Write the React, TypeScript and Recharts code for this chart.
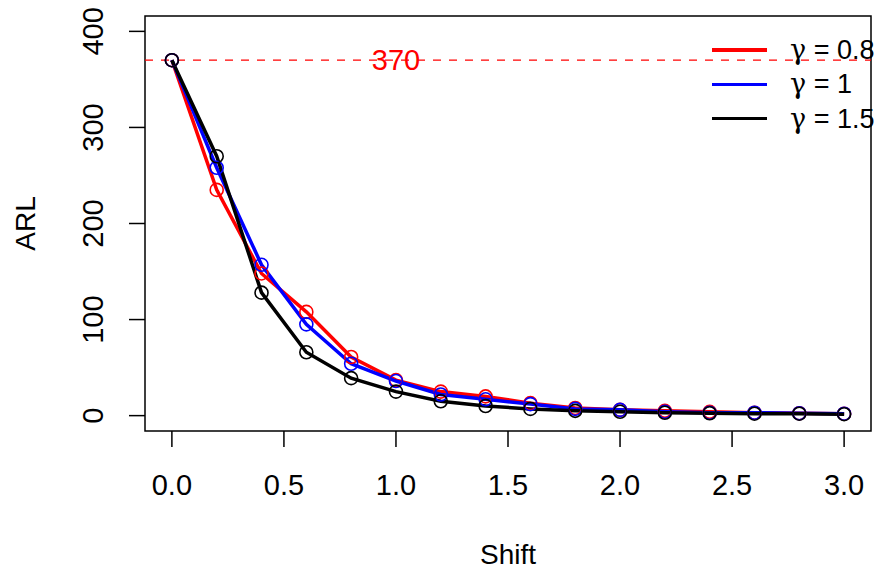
import { LineChart, Line, XAxis, YAxis, ReferenceLine, ReferenceArea, ReferenceDot } from 'recharts';

const shift = [0, 0.2, 0.4, 0.6, 0.8, 1.0, 1.2, 1.4, 1.6, 1.8, 2.0, 2.2, 2.4, 2.6, 2.8, 3.0];
const arlG08 = [370, 235, 148, 108, 61, 37, 25, 20, 13, 8, 6, 5, 4, 3, 2.5, 2];
const arlG1 = [370, 258, 157, 95, 54, 36, 22, 17, 12, 7, 6, 4, 3, 3, 2.5, 2];
const arlG15 = [370, 270, 128, 66, 39, 25, 15, 10, 7, 5, 4, 3, 2.5, 2, 2, 1.5];

const xTicks = [0, 0.5, 1.0, 1.5, 2.0, 2.5, 3.0];
const yTicks = [0, 100, 200, 300, 400];
const target = 370;

const series = [
  { key: 'g08', name: '0.8', color: '#ff0000' },
  { key: 'g1', name: '1', color: '#0000ff' },
  { key: 'g15', name: '1.5', color: '#000000' },
];

const data = shift.map((s, i) => ({ shift: s, g08: arlG08[i], g1: arlG1[i], g15: arlG15[i] }));

const FONT = '"Liberation Sans", Arial, sans-serif';
const TICK_FS = 29;
const TITLE_FS = 28;

function XTick(props: any) {
  const { x, y, payload } = props;
  return (
    <text x={x} y={y + 46} textAnchor="middle" fontSize={TICK_FS} fontFamily={FONT} fill="#000">
      {payload.value.toFixed(1)}
    </text>
  );
}

function YTick(props: any) {
  const { x, y, payload } = props;
  const tx = x - 24;
  return (
    <text x={tx} y={y} transform={`rotate(-90 ${tx} ${y})`} textAnchor="middle" fontSize={TICK_FS} fontFamily={FONT} fill="#000">
      {payload.value}
    </text>
  );
}

function XTitle(props: any) {
  const { viewBox } = props;
  const cx = viewBox.x + viewBox.width / 2;
  return (
    <text x={cx} y={564} textAnchor="middle" fontSize={TITLE_FS} fontFamily={FONT} fill="#000">
      Shift
    </text>
  );
}

function YTitle(props: any) {
  const { viewBox } = props;
  const cy = viewBox.y + viewBox.height / 2;
  return (
    <text x={35} y={cy} transform={`rotate(-90 35 ${cy})`} textAnchor="middle" fontSize={TITLE_FS} fontFamily={FONT} fill="#000">
      ARL
    </text>
  );
}

function LegendBox() {
  return (
    <div style={{ position: 'absolute', left: 712, top: 33, fontFamily: FONT, fontSize: 27 }}>
      {series.map((s) => (
        <div key={s.key} style={{ display: 'flex', alignItems: 'center', height: 34.3 }}>
          <div style={{ width: 55, height: 3.5, background: s.color, marginRight: 23 }} />
          <span style={{ whiteSpace: 'nowrap' }}>
            <span style={{ fontFamily: '"DejaVu Serif", serif' }}>γ</span> = {s.name}
          </span>
        </div>
      ))}
    </div>
  );
}

export default function App() {
  return (
    <div style={{ position: 'absolute', left: 0, top: 0, width: 877, height: 571, background: '#fff', overflow: 'hidden' }}>
      <LineChart width={877} height={571} data={data} margin={{ top: 16, right: 6, left: 0, bottom: 0 }}>
        <XAxis
          dataKey="shift"
          type="number"
          domain={[-0.12, 3.12]}
          ticks={xTicks}
          allowDataOverflow
          height={140}
          axisLine={false}
          tickLine={{ stroke: '#000', strokeWidth: 1.5 }}
          tickSize={16}
          tick={<XTick />}
          label={<XTitle />}
        />
        <YAxis
          type="number"
          domain={[-16, 416]}
          ticks={yTicks}
          allowDataOverflow
          width={145}
          axisLine={false}
          tickLine={{ stroke: '#000', strokeWidth: 1.5 }}
          tickSize={16}
          tick={<YTick />}
          label={<YTitle />}
        />
        <ReferenceArea x1={-0.12} x2={3.12} y1={-16} y2={416} fill="none" stroke="#000" strokeWidth={1.5} />
        <ReferenceLine y={target} stroke="#ff0000" strokeWidth={1.3} strokeDasharray="8 8" />
        {series.map((s) => (
          <Line
            key={s.key}
            dataKey={s.key}
            stroke={s.color}
            strokeWidth={3.5}
            type="linear"
            dot={{ r: 6.5, fill: 'none', stroke: s.color, strokeWidth: 1.6 }}
            activeDot={false}
            isAnimationActive={false}
          />
        ))}
        <ReferenceDot
          x={1.0}
          y={target}
          r={0}
          fill="none"
          stroke="none"
          label={{ value: '370', position: 'center', fill: '#ff0000', fontSize: TICK_FS, fontFamily: FONT }}
        />
      </LineChart>
      <LegendBox />
    </div>
  );
}
